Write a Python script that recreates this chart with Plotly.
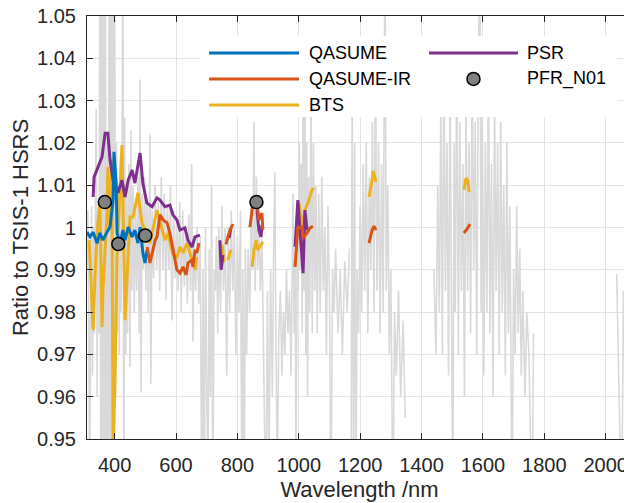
import plotly.graph_objects as go

# ---------------- data ----------------
# gray background: ratio of the full spectrum (many instruments) to TSIS-1 HSRS
gray_nm_1 = [310, 313, 316, 319, 322, 325, 328, 331, 334, 337,
             340, 343, 346, 349, 352, 355, 358, 361, 364, 367,
             370, 373, 376, 379, 382, 385, 388, 391, 394, 397,
             400, 403, 406, 409, 412, 415, 418, 421, 424, 427,
             430, 433, 436, 439, 442, 446, 450, 453, 456, 460,
             464, 468, 472, 476, 480, 483, 486, 490, 494, 498,
             502, 506, 510, 515, 518, 522, 527, 532, 537, 542,
             547, 552, 557, 562, 567, 572, 577, 582, 587, 592,
             597, 602, 607, 612, 617, 622, 627, 632, 637, 642,
             647, 651, 655, 659, 664, 669, 674, 679]
gray_ratio_1 = [0.990, 1.004, 0.975, 0.930, 0.985, 1.005, 0.965, 1.000, 0.975, 1.010,
                1.028, 0.960, 1.000, 0.975, 1.070, 0.930, 1.070, 0.940, 1.060, 0.930,
                1.070, 0.930, 1.020, 0.950, 1.070, 0.930, 1.060, 0.940, 1.070, 0.930,
                1.070, 0.960, 1.020, 0.975, 1.010, 0.970, 1.015, 0.980, 1.010, 1.070,
                0.930, 1.026, 0.970, 1.010, 0.975, 1.015, 0.967, 1.023, 0.985, 1.010,
                0.980, 1.005, 0.985, 1.012, 0.975, 1.035, 0.961, 1.008, 0.990, 1.012,
                0.985, 1.006, 0.980, 1.022, 0.963, 1.004, 0.988, 1.010, 0.990, 1.006,
                0.985, 1.012, 0.990, 1.008, 0.983, 1.005, 0.990, 1.010, 0.978, 1.004,
                0.988, 1.002, 0.985, 1.006, 0.980, 1.004, 0.986, 1.000, 0.982, 1.003,
                0.985, 1.015, 0.973, 0.998, 0.985, 1.000, 0.982, 0.998]
gray_nm_2 = [684, 688, 692, 696, 700, 704, 708, 712, 716, 720,
             724, 728, 732, 736, 740, 745, 750, 755, 760, 765,
             770, 775, 780, 785, 790, 795, 800, 805, 810, 815,
             818, 822, 826, 830, 835, 840, 845, 850, 854, 858,
             862, 866, 870, 875, 880, 886, 893, 898, 903, 908,
             914, 918, 922, 925, 930, 935, 940, 945, 950, 955,
             960, 965, 970, 975, 981, 985, 988, 991, 995, 998,
             1002, 1005, 1008, 1011, 1014, 1017, 1020, 1023, 1026, 1029,
             1032, 1036, 1040, 1044, 1048, 1052, 1056, 1060, 1065, 1070,
             1075, 1080, 1085, 1090, 1095, 1100, 1105, 1110, 1115, 1120,
             1128, 1135, 1142, 1150, 1158, 1165]
gray_ratio_2 = [0.930, 0.990, 0.930, 1.000, 0.970, 0.930, 0.995, 0.960, 1.010, 0.930,
                0.990, 0.985, 0.998, 0.975, 1.000, 0.980, 1.005, 0.985, 1.000, 0.965,
                1.000, 0.980, 1.004, 0.985, 1.000, 0.970, 0.998, 0.980, 1.004, 0.930,
                0.990, 0.930, 0.995, 0.970, 0.995, 0.980, 1.005, 0.990, 1.025, 0.985,
                1.012, 0.990, 1.000, 0.985, 0.998, 0.970, 0.930, 0.985, 0.940, 0.990,
                0.960, 0.995, 1.013, 0.980, 0.940, 0.975, 0.985, 0.965, 0.980, 0.970,
                0.990, 0.975, 0.985, 0.965, 1.008, 0.975, 0.995, 0.940, 1.000, 0.985,
                1.020, 0.990, 1.015, 0.975, 1.030, 0.985, 1.040, 0.970, 1.020, 0.960,
                1.012, 0.980, 1.035, 0.975, 1.020, 0.985, 1.010, 0.975, 1.008, 0.980,
                1.012, 0.985, 1.000, 0.970, 1.005, 0.985, 0.930, 0.990, 0.980, 0.995,
                0.975, 0.990, 0.970, 0.992, 0.980, 0.995]
gray_nm_3 = [1170, 1174, 1178, 1182, 1186, 1190, 1195, 1200, 1205, 1210,
             1215, 1220, 1225, 1230, 1235, 1240, 1245, 1250, 1255, 1260,
             1265, 1270, 1275, 1281, 1285, 1290, 1295, 1300, 1307, 1312,
             1318, 1325, 1332, 1340, 1347]
gray_ratio_3 = [0.930, 1.035, 0.940, 1.020, 0.930, 0.990, 0.975, 1.005, 0.980, 1.015,
                0.985, 1.020, 0.975, 1.012, 0.990, 1.025, 0.980, 1.040, 0.985, 1.020,
                0.975, 1.015, 0.980, 1.070, 0.985, 1.010, 0.970, 0.990, 0.930, 0.980,
                0.965, 0.985, 0.960, 0.978, 0.955]
gray_nm_4 = [1440, 1447, 1453, 1458, 1463, 1468, 1473, 1478, 1483, 1488,
             1493, 1498, 1502, 1506, 1510, 1515, 1520, 1525, 1530, 1535,
             1540, 1545, 1550, 1555, 1560, 1565, 1570, 1575, 1580, 1585,
             1590, 1594, 1598, 1603, 1608, 1613, 1618, 1623, 1628, 1633,
             1638, 1643, 1648, 1653, 1658, 1663, 1668, 1673, 1678, 1683,
             1688, 1695, 1700, 1705, 1710, 1715, 1720, 1725, 1730, 1737,
             1743, 1750, 1760, 1765]
gray_ratio_4 = [0.990, 0.970, 1.010, 0.980, 1.030, 0.970, 1.040, 0.985, 1.020, 0.965,
                1.035, 0.975, 0.930, 1.020, 0.980, 1.045, 0.970, 1.025, 0.985, 1.015,
                0.960, 1.030, 0.985, 1.020, 0.975, 1.040, 0.990, 1.025, 0.970, 1.035,
                1.070, 0.980, 1.030, 0.965, 1.020, 0.980, 1.040, 0.975, 1.015, 0.960,
                1.030, 0.985, 1.020, 0.970, 1.025, 0.980, 1.010, 0.965, 1.020, 0.975,
                1.005, 0.930, 0.990, 0.970, 1.005, 0.975, 0.995, 0.965, 0.985, 0.960,
                0.980, 0.970, 0.930, 0.975]
gray_nm_5 = [2036, 2040, 2046, 2052, 2058, 2064, 2070, 2076, 2082, 2088]
gray_ratio_5 = [0.989, 0.975, 0.950, 0.930, 0.985, 0.960, 0.990, 0.930, 0.970, 0.989]

qasume_nm = [310, 320, 330, 343, 352, 362, 375, 385, 395, 398, 405, 408,
             418, 427, 434, 444, 457, 466, 476, 483, 492, 499, 506]
qasume_ratio = [0.9989, 0.9978, 0.9989, 0.9963, 0.9987, 0.9970, 0.9989, 1.0001,
                1.0065, 1.0179, 1.0105, 0.9987, 0.9963, 0.9994, 0.9970, 1.0001,
                0.9978, 0.9994, 0.9963, 1.0001, 0.9940, 0.9916, 0.9947]

qasume_ir_nm = [506, 515, 525, 532, 538, 548, 558, 571, 580, 590, 603, 613, 623, 633,
                639, 652, 655, 662, 668, 675, None,
                763, 769, 779, 786, None,
                841, 848, 851, 864, 870, 880, 883, None,
                988, 994, 997, 1011, 1014, 1027, 1037, 1046, None,
                1229, 1239, 1245, 1252, None,
                1538, 1548, 1558]
qasume_ir_ratio = [0.9954, 0.9916, 0.9947, 0.9970, 0.9978, 1.0030, 1.0018, 1.0011,
                   0.9987, 0.9947, 0.9900, 0.9892, 0.9907, 0.9888, 0.9916, 0.9923,
                   0.9907, 0.9947, 0.9940, 0.9963, None,
                   0.9960, 0.9978, 0.9999, 1.0008, None,
                   1.0001, 1.0041, 1.0060, 1.0058, 1.0018, 1.0034, 0.9994, None,
                   0.9907, 0.9963, 0.9999, 1.0001, 0.9975, 0.9987, 0.9999, 1.0003, None,
                   0.9963, 0.9994, 1.0003, 0.9994, None,
                   0.9987, 0.9996, 1.0008]

bts_nm = [317, 326, 330, 336, 343, 352, 359, 362, 369, 375, 378, 385, 391, 395, 401,
          408, 414, 424, 434, 440, 450, 460, 476, 489, 499, 515, 538, 554, 564, 574,
          590, 603, 613, 623, 636, 652, 662, 668, None,
          743, 750, 756, None,
          769, 779, None,
          848, 854, 861, 867, 877, 883, None,
          994, 1001, 1011, 1020, 1030, 1043, 1050, None,
          1229, 1239, 1242, 1248, 1252, None,
          1538, 1545, 1551, 1555]
bts_ratio = [0.9970, 0.9829, 0.9758, 0.9883, 0.9987, 1.0065, 0.9765, 0.9852, 0.9947,
             1.0030, 1.0143, 0.9994, 1.0160, 0.9450, 0.9632, 0.9947, 1.0030, 1.0195,
             0.9781, 0.9883, 1.0025, 1.0025, 1.0082, 1.0011, 0.9994, 0.9963, 1.0041,
             1.0001, 0.9970, 0.9987, 0.9935, 0.9930, 0.9954, 0.9940, 0.9963, 0.9923,
             0.9900, 0.9930, None,
             0.9930, 0.9959, 0.9918, None,
             0.9923, 0.9947, None,
             0.9907, 0.9947, 0.9970, 0.9947, 0.9959, 0.9966, None,
             0.9994, 1.0058, 1.0001, 1.0041, 1.0058, 1.0089, 1.0093, None,
             1.0072, 1.0112, 1.0134, 1.0117, 1.0108, None,
             1.0089, 1.0117, 1.0110, 1.0084]

psr_nm = [330, 333, 346, 359, 369, 378, 385, 395, 411, 424, 434, 444, 457, 466, 483,
          492, 505, 522, 538, 548, 564, 580, 590, 603, 613, 629, 639, 652, 662, 678, None,
          743, 747, 753, None,
          773, 779, None,
          864, 870, 877, 880, None,
          988, 997, 1011, 1014, 1020, 1027]
psr_ratio = [1.0072, 1.0119, 1.0143, 1.0167, 1.0223, 1.0223, 1.0160, 1.0112, 1.0082,
             1.0112, 1.0072, 1.0112, 1.0136, 1.0105, 1.0176, 1.0105, 1.0058, 1.0049,
             1.0070, 1.0065, 1.0049, 1.0053, 1.0030, 1.0018, 0.9994, 0.9999, 0.9970,
             0.9954, 0.9978, 0.9982, None,
             0.9970, 0.9900, 0.9935, None,
             0.9975, 0.9999, None,
             1.0041, 0.9994, 0.9978, 1.0006, None,
             0.9954, 1.0065, 0.9923, 0.9892, 1.0041, 0.9994]

pfr_nm = [368, 412, 500, 862]
pfr_ratio = [1.0060, 0.9961, 0.9981, 1.0060]

x_ticks = [400, 600, 800, 1000, 1200, 1400, 1600, 1800, 2000]
y_ticks = [0.95, 0.96, 0.97, 0.98, 0.99, 1.00, 1.01, 1.02, 1.03, 1.04, 1.05]
y_tick_text = ["0.95", "0.96", "0.97", "0.98", "0.99", "1", "1.01", "1.02", "1.03", "1.04", "1.05"]

series_names = ["QASUME", "QASUME-IR", "BTS", "PSR", "PFR_N01"]
series_colors = ["#0072BD", "#D95319", "#EDB120", "#7E2F8E", "#808080"]
gray_color = "#d9d9d9"

# ---------------- figure ----------------
gray_x = gray_nm_1 + gray_nm_2 + [None] + gray_nm_3 + [None] + gray_nm_4 + [None] + gray_nm_5
gray_y = gray_ratio_1 + gray_ratio_2 + [None] + gray_ratio_3 + [None] + gray_ratio_4 + [None] + gray_ratio_5

fig = go.Figure()
fig.add_trace(go.Scatter(x=gray_x, y=gray_y, mode="lines", name="all",
                         line=dict(color=gray_color, width=1.6), connectgaps=False))
fig.add_trace(go.Scatter(x=bts_nm, y=bts_ratio, mode="lines", name="BTS",
                         line=dict(color=series_colors[2], width=3), connectgaps=False))
fig.add_trace(go.Scatter(x=psr_nm, y=psr_ratio, mode="lines", name="PSR",
                         line=dict(color=series_colors[3], width=3), connectgaps=False))
fig.add_trace(go.Scatter(x=qasume_nm, y=qasume_ratio, mode="lines", name="QASUME",
                         line=dict(color=series_colors[0], width=3)))
fig.add_trace(go.Scatter(x=qasume_ir_nm, y=qasume_ir_ratio, mode="lines", name="QASUME-IR",
                         line=dict(color=series_colors[1], width=3), connectgaps=False))
fig.add_trace(go.Scatter(x=pfr_nm, y=pfr_ratio, mode="markers", name="PFR_N01",
                         marker=dict(color=series_colors[4], size=13,
                                     line=dict(color="#000000", width=1.5))))

axis_col = "#262626"
grid_col = "#e3e3e3"
font_family = "Liberation Sans, Arial, Helvetica, sans-serif"

# the page adds an 8 px body margin, so the figure itself is offset by 8 px
fig.update_layout(
    width=624, height=495,
    margin=dict(l=79, r=0, t=8, b=64, autoexpand=False),
    plot_bgcolor="white", paper_bgcolor="white",
    showlegend=False,
    font=dict(family=font_family, size=20, color=axis_col),
)
fig.update_xaxes(
    range=[310, 2085.8], tickvals=x_ticks, ticks="inside", ticklen=6, automargin=False,
    tickcolor=axis_col, tickwidth=1, showline=True, linecolor=axis_col, linewidth=1,
    mirror="ticks", showgrid=True, gridcolor=grid_col, gridwidth=1, zeroline=False,
    tickfont=dict(size=20, color=axis_col), ticklabelstandoff=8, ticklabeloverflow="allow",
    title=dict(text="Wavelength /nm", font=dict(size=22, color=axis_col), standoff=6),
)
fig.update_yaxes(
    range=[0.95, 1.05], tickvals=y_ticks, ticktext=y_tick_text, ticks="inside", ticklen=6,
    automargin=False, ticklabeloverflow="allow",
    tickcolor=axis_col, tickwidth=1, showline=True, linecolor=axis_col, linewidth=1,
    mirror="ticks", showgrid=True, gridcolor=grid_col, gridwidth=1, zeroline=False,
    tickfont=dict(size=20, color=axis_col), ticklabelstandoff=6,
    title=dict(text="Ratio to TSIS-1 HSRS", font=dict(size=22, color=axis_col), standoff=6),
)

# legend box (white, no border)
fig.add_shape(type="rect", xref="paper", yref="paper", x0=0.2073, x1=0.9725, y0=0.7612, y1=0.9527,
              fillcolor="white", line=dict(width=0), layer="above")
legend_rows = [0.9125, 0.8511, 0.7896]
legend_items = [(0, 0, 0), (0, 1, 1), (0, 2, 2), (1, 0, 3), (1, 1, 4)]
col_line = [(0.2239, 0.3890), (0.6275, 0.7908)]
col_text = [0.4037, 0.8037]
for col, row, idx in legend_items:
    yv = legend_rows[row]
    x0, x1 = col_line[col]
    if series_names[idx] == "PFR_N01":
        xc = (x0 + x1) / 2
        fig.add_shape(type="circle", xref="paper", yref="paper", xsizemode="pixel", ysizemode="pixel",
                      xanchor=xc, yanchor=yv, x0=-6.5, x1=6.5, y0=-6.5, y1=6.5,
                      fillcolor=series_colors[idx], line=dict(color="#000000", width=1.5), layer="above")
    else:
        fig.add_shape(type="line", xref="paper", yref="paper", x0=x0, x1=x1, y0=yv, y1=yv,
                      line=dict(color=series_colors[idx], width=3), layer="above")
    fig.add_annotation(x=col_text[col], y=yv, xref="paper", yref="paper", text=series_names[idx],
                       showarrow=False, xanchor="left", yanchor="middle",
                       font=dict(family=font_family, size=18, color="#000000"))

fig.write_html("out.html")
